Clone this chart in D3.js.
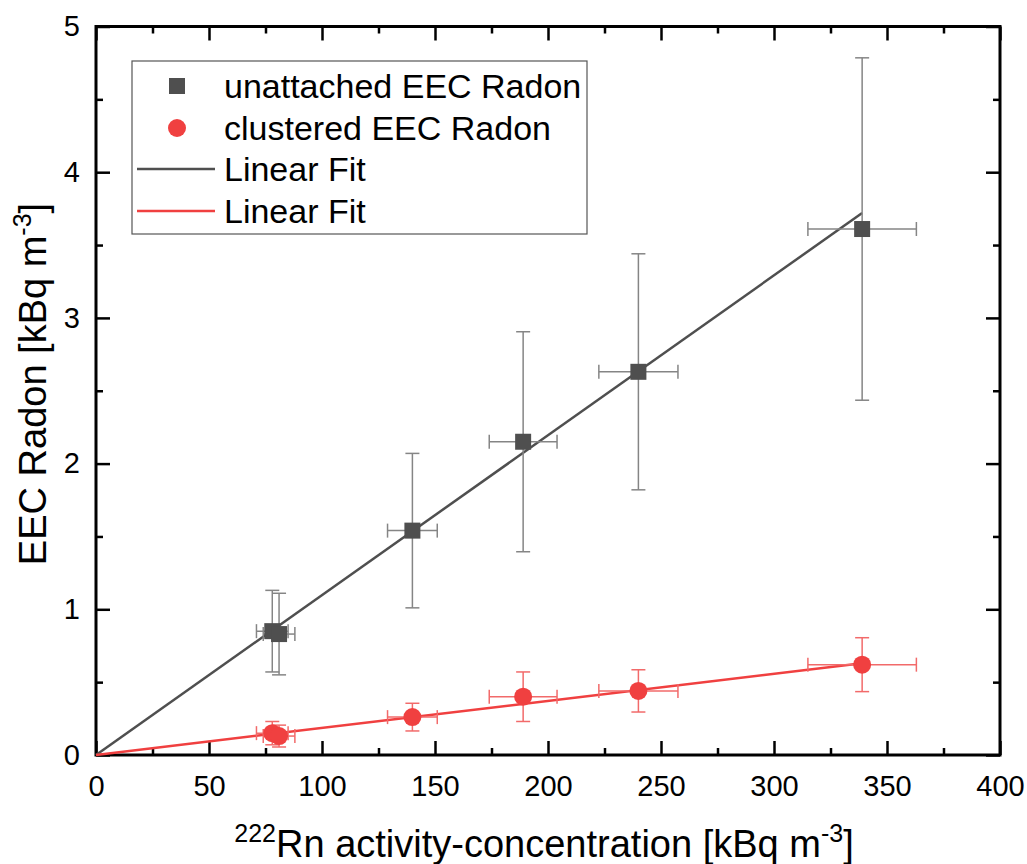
<!DOCTYPE html>
<html>
<head>
<meta charset="utf-8">
<script src="https://cdn.jsdelivr.net/npm/d3@7"></script>
<style>
	body { margin: 0; background: #fff; }
	text { font-family: Arial, "Liberation Sans", sans-serif; fill: #000; }
</style>
</head>
<body>
<svg id="chart"></svg>
<script>
// radon activity-concentration [kBq m-3] and its error
const rnX = [78, 81, 140, 189, 240, 339];
const rnXErr = [7, 7, 11, 15, 17.5, 24];

// EEC radon values [kBq m-3]
const unattachedY = [0.85, 0.83, 1.54, 2.15, 2.63, 3.61];
const unattachedErr = [0.28, 0.28, 0.53, 0.755, 0.81, 1.175];
const clusteredY = [0.15, 0.13, 0.26, 0.40, 0.44, 0.62];
const clusteredErr = [0.08, 0.075, 0.095, 0.17, 0.145, 0.185];

// linear fit end points
const fitX = [0, 339];
const unattachedFit = [0, 3.72];
const clusteredFit = [0, 0.63];

const xTicks = [0, 50, 100, 150, 200, 250, 300, 350, 400];
const xMinor = [25, 75, 125, 175, 225, 275, 325, 375];
const yTicks = [0, 1, 2, 3, 4, 5];
const yMinor = [0.5, 1.5, 2.5, 3.5, 4.5];

const legendLabels = ['unattached EEC Radon', 'clustered EEC Radon', 'Linear Fit', 'Linear Fit'];

function makeChart() {
	let w = 1027;
	let h = 864;
	let left = 96, right = 1000, top = 26.5, bottom = 755;

	let grey = '#4f4f4f';
	let red = '#f04040';

	let svg = d3.select('#chart')
		.attr('width', w)
		.attr('height', h);

	let x = d3.scaleLinear().domain([0, 400]).range([left, right]);
	let y = d3.scaleLinear().domain([0, 5]).range([bottom, top]);

	// axes, ticks pointing inward
	function addAxis(axis, tr, values, size, pad, labels) {
		let g = svg.append('g')
			.attr('transform', tr)
			.call(axis.tickValues(values).tickSize(size).tickPadding(pad)
				.tickFormat(labels ? d3.format('d') : ''));
		g.select('.domain').remove();
		g.selectAll('line').attr('stroke', '#000').attr('stroke-width', 2.5);
		g.selectAll('text').style('font-size', '29px');
		return g;
	}

	addAxis(d3.axisBottom(x), `translate(0,${bottom})`, xTicks, -14, 20, true);
	addAxis(d3.axisBottom(x), `translate(0,${bottom})`, xMinor, -7, 0, false);
	addAxis(d3.axisTop(x), `translate(0,${top})`, xTicks, -14, 0, false);
	addAxis(d3.axisTop(x), `translate(0,${top})`, xMinor, -7, 0, false);
	addAxis(d3.axisLeft(y), `translate(${left},0)`, yTicks, -14, 16, true);
	addAxis(d3.axisLeft(y), `translate(${left},0)`, yMinor, -7, 0, false);
	addAxis(d3.axisRight(y), `translate(${right},0)`, yTicks, -14, 0, false);
	addAxis(d3.axisRight(y), `translate(${right},0)`, yMinor, -7, 0, false);

	svg.append('rect')
		.attr('x', left)
		.attr('y', top)
		.attr('width', right - left)
		.attr('height', bottom - top)
		.attr('fill', 'none')
		.attr('stroke', '#000')
		.attr('stroke-width', 3);

	// fit lines
	let line = d3.line().x(d => x(d[0])).y(d => y(d[1]));
	svg.append('path')
		.attr('d', line(fitX.map((v, i) => [v, unattachedFit[i]])))
		.attr('fill', 'none')
		.attr('stroke', grey)
		.attr('stroke-width', 2.5);
	svg.append('path')
		.attr('d', line(fitX.map((v, i) => [v, clusteredFit[i]])))
		.attr('fill', 'none')
		.attr('stroke', red)
		.attr('stroke-width', 2.5);

	// error bars
	function errorBars(ys, errs, color) {
		let pts = rnX.map((v, i) => ({x: v, xe: rnXErr[i], y: ys[i], ye: errs[i]}));
		let g = svg.append('g')
			.attr('stroke', color)
			.attr('stroke-width', 1.5)
			.attr('fill', 'none');
		let segs = [];
		pts.forEach(p => {
			let cx = x(p.x), cy = y(p.y);
			let y0 = y(p.y - p.ye), y1 = y(p.y + p.ye);
			let x0 = x(p.x - p.xe), x1 = x(p.x + p.xe);
			segs.push([cx, y0, cx, y1]);
			segs.push([cx - 7, y0, cx + 7, y0]);
			segs.push([cx - 7, y1, cx + 7, y1]);
			segs.push([x0, cy, x1, cy]);
			segs.push([x0, cy - 7, x0, cy + 7]);
			segs.push([x1, cy - 7, x1, cy + 7]);
		});
		g.selectAll('line')
			.data(segs)
			.enter()
			.append('line')
			.attr('x1', d => d[0])
			.attr('y1', d => d[1])
			.attr('x2', d => d[2])
			.attr('y2', d => d[3]);
	}
	errorBars(unattachedY, unattachedErr, '#858585');
	errorBars(clusteredY, clusteredErr, '#f26a6a');

	// markers
	svg.selectAll('rect.sq')
		.data(rnX)
		.enter()
		.append('rect')
		.classed('sq', true)
		.attr('x', (d, i) => x(d) - 8)
		.attr('y', (d, i) => y(unattachedY[i]) - 8)
		.attr('width', 16)
		.attr('height', 16)
		.attr('fill', grey);

	svg.selectAll('circle.pt')
		.data(rnX)
		.enter()
		.append('circle')
		.classed('pt', true)
		.attr('cx', d => x(d))
		.attr('cy', (d, i) => y(clusteredY[i]))
		.attr('r', 9)
		.attr('fill', red);

	// legend
	let lg = svg.append('g');
	lg.append('rect')
		.attr('x', 132)
		.attr('y', 61)
		.attr('width', 455)
		.attr('height', 173)
		.attr('fill', '#fff')
		.attr('stroke', '#555')
		.attr('stroke-width', 1.2);
	let rowY = [86, 128, 169, 211];
	lg.append('rect')
		.attr('x', 169).attr('y', rowY[0] - 8)
		.attr('width', 16).attr('height', 16)
		.attr('fill', grey);
	lg.append('circle')
		.attr('cx', 177).attr('cy', rowY[1]).attr('r', 9)
		.attr('fill', red);
	lg.append('line')
		.attr('x1', 137).attr('x2', 215)
		.attr('y1', rowY[2]).attr('y2', rowY[2])
		.attr('stroke', grey).attr('stroke-width', 2.5);
	lg.append('line')
		.attr('x1', 137).attr('x2', 215)
		.attr('y1', rowY[3]).attr('y2', rowY[3])
		.attr('stroke', red).attr('stroke-width', 2.5);
	lg.selectAll('text')
		.data(legendLabels)
		.enter()
		.append('text')
		.attr('x', 224)
		.attr('y', (d, i) => rowY[i] + 12)
		.style('font-size', '34px')
		.text(d => d);

	// axis titles
	let xt = svg.append('text')
		.attr('x', (left + right) / 2 - 4)
		.attr('y', 857)
		.attr('text-anchor', 'middle')
		.style('font-size', '38px');
	xt.append('tspan').attr('dy', -15).style('font-size', '25px').text('222');
	xt.append('tspan').attr('dy', 15).text('Rn activity-concentration [kBq m');
	xt.append('tspan').attr('dy', -15).style('font-size', '25px').text('-3');
	xt.append('tspan').attr('dy', 15).text(']');

	let yt = svg.append('text')
		.attr('transform', 'translate(46,384) rotate(-90)')
		.attr('text-anchor', 'middle')
		.style('font-size', '38px');
	yt.append('tspan').text('EEC Radon [kBq m');
	yt.append('tspan').attr('dy', -15).style('font-size', '25px').text('-3');
	yt.append('tspan').attr('dy', 15).text(']');
}

window.onload = function () {
	makeChart();
}
</script>
</body>
</html>
